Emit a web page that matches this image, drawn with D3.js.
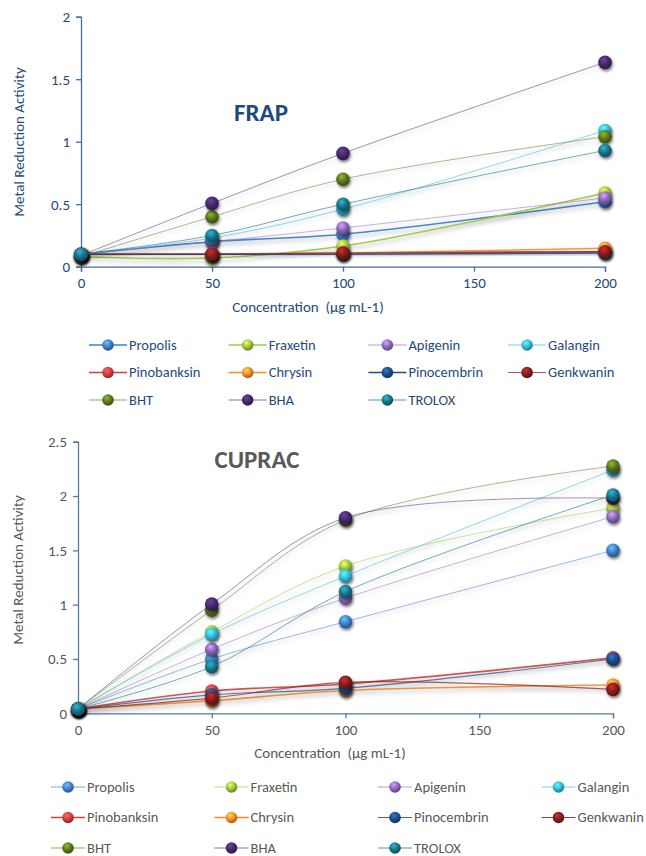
<!DOCTYPE html>
<html>
<head>
<meta charset="utf-8">
<script src="https://cdn.jsdelivr.net/npm/d3@7"></script>
<style>
  body { margin: 0; background: #fff; }
  svg { display: block; font-family: Carlito, Calibri, Lato, sans-serif; }
</style>
</head>
<body>
<svg id="chart"></svg>
<script>
// concentrations (x) and series names
const concentrations = [0, 50, 100, 200];
const seriesNames = ['Propolis', 'Fraxetin', 'Apigenin', 'Galangin', 'Pinobanksin', 'Chrysin',
  'Pinocembrin', 'Genkwanin', 'BHT', 'BHA', 'TROLOX'];
const xTicks = [0, 50, 100, 150, 200];

// FRAP values, one list per series (same order as seriesNames)
const frapPropolis    = [0.10, 0.20, 0.26, 0.52];
const frapFraxetin    = [0.08, 0.07, 0.165, 0.59];
const frapApigenin    = [0.10, 0.20, 0.31, 0.55];
const frapGalangin    = [0.10, 0.23, 0.46, 1.09];
const frapPinobanksin = [0.10, 0.10, 0.11, 0.12];
const frapChrysin     = [0.10, 0.10, 0.11, 0.147];
const frapPinocembrin = [0.10, 0.10, 0.10, 0.11];
const frapGenkwanin   = [0.10, 0.10, 0.11, 0.12];
const frapBHT         = [0.08, 0.40, 0.70, 1.04];
const frapBHA         = [0.09, 0.507, 0.907, 1.635];
const frapTROLOX      = [0.10, 0.25, 0.50, 0.93];
const frapTicks = [0, 0.5, 1, 1.5, 2];

// CUPRAC values
const cupPropolis    = [0.04, 0.50, 0.843, 1.50];
const cupFraxetin    = [0.04, 0.75, 1.355, 1.89];
const cupApigenin    = [0.04, 0.59, 1.06, 1.81];
const cupGalangin    = [0.04, 0.727, 1.263, 2.24];
const cupPinobanksin = [0.04, 0.205, 0.27, 0.51];
const cupChrysin     = [0.04, 0.115, 0.21, 0.26];
const cupPinocembrin = [0.04, 0.17, 0.23, 0.50];
const cupGenkwanin   = [0.04, 0.14, 0.285, 0.22];
const cupBHT         = [0.04, 0.95, 1.78, 2.275];
const cupBHA         = [0.04, 1.005, 1.80, 1.98];
const cupTROLOX      = [0.04, 0.43, 1.12, 2.01];
const cupTicks = [0, 0.5, 1, 1.5, 2, 2.5];

const frapSeries = [frapPropolis, frapFraxetin, frapApigenin, frapGalangin, frapPinobanksin, frapChrysin,
  frapPinocembrin, frapGenkwanin, frapBHT, frapBHA, frapTROLOX];
const cupSeries = [cupPropolis, cupFraxetin, cupApigenin, cupGalangin, cupPinobanksin, cupChrysin,
  cupPinocembrin, cupGenkwanin, cupBHT, cupBHA, cupTROLOX];

// sphere colours per series
const colors = ['#3f7fcc', '#9cc83e', '#8a68bd', '#38b9da', '#d2403c', '#f58d2c',
  '#1f4c88', '#861d1d', '#5a771d', '#45296a', '#1a7589'];

const svg = d3.select('#chart').attr('width', 646).attr('height', 856);
const defs = svg.append('defs');

colors.forEach((c, i) => {
  const g = defs.append('radialGradient')
    .attr('id', 'ball' + i)
    .attr('cx', '40%').attr('cy', '32%').attr('r', '65%');
  g.append('stop').attr('offset', '0%').attr('stop-color', d3.color(c).brighter(1.3));
  g.append('stop').attr('offset', '55%').attr('stop-color', c);
  g.append('stop').attr('offset', '100%').attr('stop-color', d3.color(c).darker(1.1));
});

defs.append('filter').attr('id', 'lineShadow')
  .attr('x', '-10%').attr('y', '-50%').attr('width', '120%').attr('height', '200%')
  .append('feDropShadow')
  .attr('dx', 0).attr('dy', 3).attr('stdDeviation', 2)
  .attr('flood-color', '#000').attr('flood-opacity', 0.3);

defs.append('filter').attr('id', 'dotShadow')
  .attr('x', '-60%').attr('y', '-60%').attr('width', '220%').attr('height', '220%')
  .append('feDropShadow')
  .attr('dx', 1).attr('dy', 2).attr('stdDeviation', 1.4)
  .attr('flood-color', '#000').attr('flood-opacity', 0.55);

class LineChart {

  constructor(_config, _data) {
    this.config = _config;
    this.data = _data;
    this.initVis();
  }

  initVis() {
    let vis = this;
    const cfg = vis.config;

    vis.xScale = d3.scaleLinear().domain([0, 200]).range([0, cfg.width]);
    vis.yScale = d3.scaleLinear().domain([0, cfg.yMax]).range([cfg.height, 0]);

    vis.chart = svg.append('g')
      .attr('transform', `translate(${cfg.left},${cfg.top})`);

    vis.xAxis = d3.axisBottom(vis.xScale).tickValues(xTicks).tickSize(5).tickPadding(6);
    vis.yAxis = d3.axisLeft(vis.yScale).tickValues(cfg.yTicks).tickSize(5).tickPadding(6)
      .tickFormat(d3.format('~g'));

    vis.xAxisG = vis.chart.append('g')
      .attr('transform', `translate(0,${cfg.height})`)
      .call(vis.xAxis);
    vis.yAxisG = vis.chart.append('g').call(vis.yAxis);

    [vis.xAxisG, vis.yAxisG].forEach(a => {
      a.select('.domain').attr('stroke', cfg.axisColor).attr('stroke-width', 1.3);
      a.selectAll('.tick line').attr('stroke', cfg.axisColor).attr('stroke-width', 1.3);
      a.selectAll('.tick text').attr('fill', cfg.textColor).attr('font-size', 15)
        .attr('font-family', 'Carlito, Calibri, Lato, sans-serif');
    });

    // axis titles
    svg.append('text')
      .attr('x', cfg.xTitleX).attr('y', cfg.xTitleY)
      .attr('text-anchor', 'middle').attr('fill', cfg.textColor).attr('font-size', 15)
      .style('white-space', 'pre')
      .text('Concentration  (\u00b5g mL-1)');

    svg.append('text')
      .attr('transform', `translate(${cfg.yTitleX},${cfg.yTitleY}) rotate(-90)`)
      .attr('text-anchor', 'middle').attr('fill', cfg.textColor).attr('font-size', 15)
      .text('Metal Reduction Activity');

    svg.append('text')
      .attr('x', cfg.titleX).attr('y', cfg.titleY)
      .attr('text-anchor', 'middle').attr('fill', cfg.textColor)
      .attr('font-size', 25).attr('font-weight', 'bold')
      .text(cfg.title);

    vis.updateVis();
  }

  updateVis() {
    let vis = this;
    vis.series = seriesNames.map((name, i) => ({
      name: name,
      idx: i,
      values: concentrations.map((c, j) => ({x: c, y: vis.data[i][j]}))
    }));
    vis.line = d3.line()
      .x(d => vis.xScale(d.x))
      .y(d => vis.yScale(d.y))
      .curve(d3.curveCatmullRom.alpha(0.5));
    vis.renderVis();
  }

  renderVis() {
    let vis = this;
    const cfg = vis.config;

    const groups = vis.chart.selectAll('.series')
      .data(vis.series)
      .join('g')
        .attr('class', 'series');

    groups.append('path')
      .attr('d', d => vis.line(d.values))
      .attr('fill', 'none')
      .attr('stroke', d => colors[d.idx])
      .attr('stroke-width', d => cfg.lineWidths[d.idx])
      .attr('stroke-opacity', d => cfg.lineOpacity[d.idx])
      .attr('filter', 'url(#lineShadow)');

    groups.selectAll('circle')
      .data(d => d.values.map(v => ({...v, idx: d.idx})))
      .join('circle')
        .attr('cx', d => vis.xScale(d.x))
        .attr('cy', d => vis.yScale(d.y))
        .attr('r', 6.8)
        .attr('fill', d => `url(#ball${d.idx})`)
        .attr('filter', 'url(#dotShadow)');

    // legend
    const lg = svg.append('g');
    const items = lg.selectAll('g')
      .data(vis.series)
      .join('g')
        .attr('transform', (d, i) =>
          `translate(${cfg.legendX + (i % 4) * cfg.legendDx},${cfg.legendY + Math.floor(i / 4) * cfg.legendDy})`);

    items.append('line')
      .attr('x1', -cfg.legendHalf).attr('x2', cfg.legendHalf)
      .attr('stroke', d => colors[d.idx])
      .attr('stroke-width', d => cfg.lineWidths[d.idx])
      .attr('stroke-opacity', d => Math.min(1, cfg.lineOpacity[d.idx] + 0.15));

    items.append('circle')
      .attr('r', 5.8)
      .attr('fill', d => `url(#ball${d.idx})`);

    items.append('text')
      .attr('x', cfg.legendHalf + 2)
      .attr('dy', '0.33em')
      .attr('fill', cfg.textColor)
      .attr('font-size', 14.5)
      .text(d => d.name);
  }
}

new LineChart({
  left: 81, top: 16.7, width: 524, height: 250, yMax: 2, yTicks: frapTicks,
  title: 'FRAP', titleX: 261, titleY: 121,
  textColor: '#1f497d', axisColor: '#4a6b9c',
  xTitleX: 308, xTitleY: 312, yTitleX: 24, yTitleY: 142,
  lineWidths: [1.6, 1.6, 1, 1, 1.6, 1.6, 1.6, 1, 1, 1, 1],
  lineOpacity: [0.95, 0.95, 0.5, 0.55, 0.9, 0.9, 0.9, 0.6, 0.5, 0.5, 0.6],
  legendX: 108, legendY: 345, legendDx: 139.7, legendDy: 27.5, legendHalf: 19
}, frapSeries);

new LineChart({
  left: 78, top: 441.7, width: 535, height: 271.6, yMax: 2.5, yTicks: cupTicks,
  title: 'CUPRAC', titleX: 257, titleY: 468,
  textColor: '#595959', axisColor: '#5677a8',
  xTitleX: 330, xTitleY: 758, yTitleX: 23, yTitleY: 570,
  lineWidths: [1, 1, 1, 1, 1.6, 1.6, 1.2, 1.2, 1, 1, 1],
  lineOpacity: [0.55, 0.5, 0.5, 0.55, 0.9, 0.9, 0.7, 0.7, 0.5, 0.5, 0.6],
  legendX: 68, legendY: 787, legendDx: 163.5, legendDy: 30.5, legendHalf: 17
}, cupSeries);
</script>
</body>
</html>
